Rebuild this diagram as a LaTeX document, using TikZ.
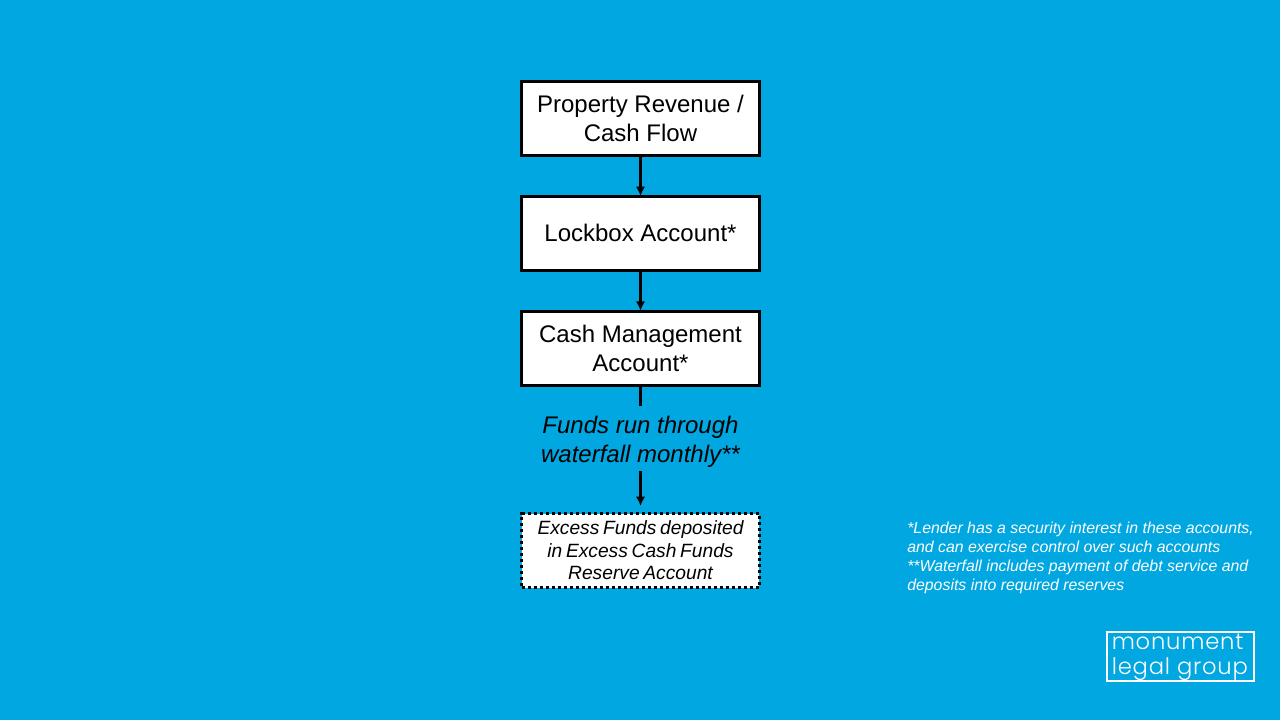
\documentclass[tikz,border=0pt]{standalone}
\usepackage{fontspec}
\setmainfont{Liberation Sans}
\newfontfamily\logofont[UprightFont={* Light},LetterSpace=3.5]{Poppins}
\newfontfamily\excessfont[WordSpace=0.7]{Liberation Sans}
\definecolor{bg}{HTML}{00A7E1}
\usetikzlibrary{arrows.meta}
\tikzset{x=0.75pt,y=-0.75pt,
 box/.style={draw=black,fill=white,line width=2.25pt,minimum width=178pt,minimum height=55.5pt,align=center,font=\fontsize{18}{21.8}\selectfont,inner sep=0pt},
 conn/.style={draw=black,line width=2.25pt,-{Latex[length=7pt,width=7pt]}},
 plain/.style={draw=black,line width=2.25pt}}
\begin{document}
\begin{tikzpicture}
\useasboundingbox (0,0) rectangle (1280,720);
\fill[bg] (0,0) rectangle (1280,720);
\node[box] (a) at (640.5,118.2) {Property Revenue /\\Cash Flow};
\node[box] (b) at (640.5,233.5) {\raisebox{0.6pt}{Lockbox Account*}};
\node[box] (c) at (640.5,348.2) {Cash Management\\Account*};
\node[align=center,inner sep=0pt,font=\fontsize{18}{21.8}\selectfont\itshape] (t) at (640.5,442) {Funds run through\\waterfall monthly**};
\coordinate (ttop) at (640.5,406);
\coordinate (tbot) at (640.5,471);
\node[box,dash pattern=on 2.25pt off 2.25pt,font=\excessfont\fontsize{14.4}{16.9}\selectfont\itshape] (d) at (640.5,550.5) {Excess Funds deposited\\in Excess Cash Funds\\Reserve Account};
\draw[conn,shorten >=-0.8pt] (a) -- (b);
\draw[conn,shorten >=-0.8pt] (b) -- (c);
\draw[plain] (c) -- (ttop);
\draw[conn,shorten >=4.5pt] (tbot) -- (d);
\node[anchor=north west,align=left,inner sep=0pt,text=white,font=\fontsize{11.9}{14.3}\selectfont\itshape] (n) at (907,522) {*Lender has a security interest in these accounts,\\and can exercise control over such accounts\\**Waterfall includes payment of debt service and\\deposits into required reserves};
\node[draw=white,line width=1.7pt,minimum width=110.5pt,minimum height=37pt,inner sep=0pt] (l) at (1180.5,656.5) {};
\node[anchor=west,inner sep=0pt,align=left,text=white,font=\logofont\fontsize{17}{18.7}\selectfont] (lt) at (1111.5,657) {monument\\legal group};
\end{tikzpicture}
\end{document}
